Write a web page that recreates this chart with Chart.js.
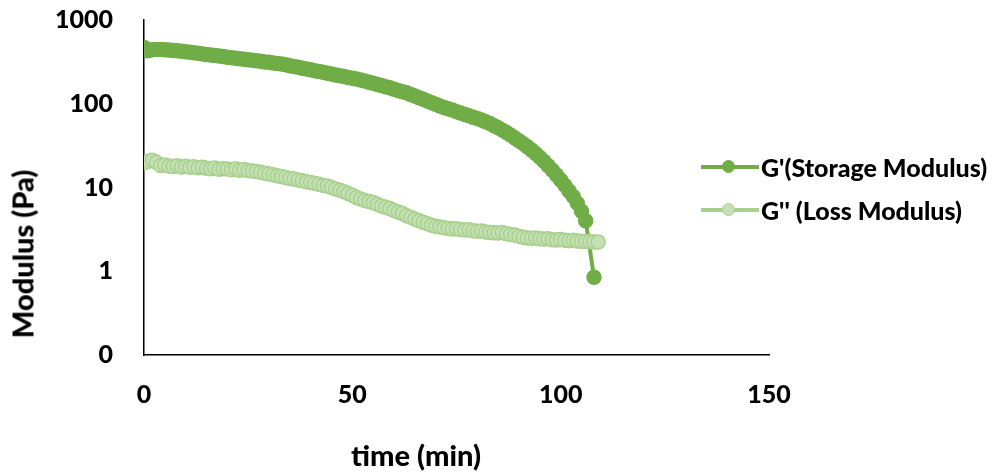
<!DOCTYPE html>
<html>
<head>
  <title>Storage and Loss Modulus vs Time</title>
  <script src="https://cdn.jsdelivr.net/npm/chart.js"></script>
  <style>
    body {
      margin: 0;
      background-color: white;
      font-family: 'Lato', sans-serif;
      font-weight: 900;
      color: #000;
    }

    .wrap {
      position: relative;
      width: 999px;
      height: 475px;
    }

    .axis-title {
      position: absolute;
      font-size: 29px;
      white-space: nowrap;
      transform: translate(-50%, -50%);
    }

    .y-title {
      transform: translate(-50%, -50%) rotate(-90deg);
    }

    .legend-item {
      position: absolute;
      left: 701px;
      display: flex;
      align-items: center;
      font-size: 25px;
      white-space: nowrap;
      transform: translateY(-50%);
    }

    .legend-mark {
      position: relative;
      width: 58px;
      height: 14px;
      margin-right: 2px;
    }

    .legend-line {
      position: absolute;
      left: 0;
      right: 0;
      top: 5px;
      height: 4px;
    }

    .legend-dot {
      position: absolute;
      left: 21px;
      top: 0px;
      width: 11px;
      height: 11px;
      border-radius: 50%;
      border: 1.5px solid;
    }
  </style>
</head>
<body>
  <div class="wrap">
    <canvas id="modulusChart" width="999" height="475"></canvas>

    <div class="axis-title y-title" style="left: 22px; top: 254px;">Modulus (Pa)</div>
    <div class="axis-title" style="left: 416px; top: 454px;">time (min)</div>

    <div id="legendContainer"></div>
  </div>

  <script>
    // Sample times (min)
    const minutes = [
      0, 1, 2, 3, 4, 5, 6, 7, 8, 9,
      10, 11, 12, 13, 14, 15, 16, 17, 18, 19,
      20, 21, 22, 23, 24, 25, 26, 27, 28, 29,
      30, 31, 32, 33, 34, 35, 36, 37, 38, 39,
      40, 41, 42, 43, 44, 45, 46, 47, 48, 49,
      50, 51, 52, 53, 54, 55, 56, 57, 58, 59,
      60, 61, 62, 63, 64, 65, 66, 67, 68, 69,
      70, 71, 72, 73, 74, 75, 76, 77, 78, 79,
      80, 81, 82, 83, 84, 85, 86, 87, 88, 89,
      90, 91, 92, 93, 94, 95, 96, 97, 98, 99,
      100, 101, 102, 103, 104, 105, 106, 107, 108, 109
    ];

    // G' (Pa), no reading at 107 and 109 min
    const storageModulus = [
      470, 430, 440, 445, 445, 442, 438, 433, 428, 423,
      418, 412, 406, 400, 394, 388, 382, 376, 371, 366,
      360, 355, 350, 345, 340, 335, 330, 326, 321, 316,
      312, 307, 303, 298, 292, 285, 279, 272, 266, 260,
      254, 248, 243, 237, 231, 226, 221, 216, 211, 206,
      201, 197, 192, 187, 181, 176, 170, 165, 160, 155,
      149, 144, 139, 135, 129, 123.5, 118, 113, 108, 103,
      98.5, 94, 90, 87, 84, 80.5, 77.5, 74.5, 72, 69,
      66.5, 64, 61, 58, 54.7, 51.6, 48.4, 45.3, 42.2, 39.1,
      36.2, 33.4, 30.6, 28, 25.4, 22.9, 20.5, 18.2, 16.1, 14.1,
      12.3, 10.6, 9.1, 7.8, 6.5, 5.2, 4.0, null, 0.85, null
    ];

    // G'' (Pa)
    const lossModulus = [
      19.8, 20.5, 21.2, 20.0, 18.3, 18.6, 18.0, 17.8, 18.2, 17.6,
      17.9, 17.4, 17.7, 17.2, 17.5, 17.0, 16.7, 17.1, 16.5, 16.8,
      16.6, 16.3, 16.7, 16.1, 16.4, 15.9, 15.7, 15.5, 15.2, 14.8,
      14.5, 14.2, 13.8, 13.5, 13.2, 12.8, 12.6, 12.3, 12.0, 11.7,
      11.5, 11.2, 10.9, 10.6, 10.4, 10.0, 9.6, 9.3, 8.9, 8.5,
      8.1, 7.6, 7.3, 7.0, 6.8, 6.6, 6.3, 6.0, 5.8, 5.6,
      5.3, 5.1, 4.9, 4.6, 4.4, 4.2, 4.0, 3.85, 3.7, 3.55,
      3.45, 3.37, 3.3, 3.25, 3.2, 3.22, 3.15, 3.1, 3.12, 3.05,
      3.0, 3.02, 2.95, 2.9, 2.88, 2.86, 2.9, 2.8, 2.75, 2.7,
      2.62, 2.55, 2.5, 2.48, 2.5, 2.45, 2.42, 2.44, 2.38, 2.36,
      2.4, 2.34, 2.32, 2.35, 2.3, 2.28, 2.26, 2.25, 2.24, 2.23
    ];

    const xTicks = [0, 50, 100, 150];
    const yTicks = [0.1, 1, 10, 100, 1000];

    const seriesNames = ["G'(Storage Modulus)", "G'' (Loss Modulus)"];
    const lineColors = ['#70AD47', '#A9D18E'];
    const fillColors = ['#70AD47', '#C5E0B4'];

    const tickFont = { family: 'Lato', size: 25, weight: '900' };

    function toPoints(values) {
      return minutes.map((t, i) => ({ x: t, y: values[i] }));
    }

    const datasets = [storageModulus, lossModulus].map((values, i) => ({
      label: seriesNames[i],
      data: toPoints(values),
      borderColor: lineColors[i],
      backgroundColor: fillColors[i],
      pointBorderColor: lineColors[i],
      pointBackgroundColor: fillColors[i],
      borderWidth: 4,
      pointRadius: 7,
      pointBorderWidth: 1.5,
      pointHoverRadius: 7,
      spanGaps: true,
      tension: 0,
      // loss modulus sits on top of the storage curve
      order: i === 0 ? 1 : 0
    }));

    const ctx = document.getElementById('modulusChart').getContext('2d');

    new Chart(ctx, {
      type: 'line',
      data: { datasets: datasets },
      options: {
        responsive: false,
        animation: false,
        layout: {
          padding: { left: 0, right: 230, top: 20, bottom: 0 }
        },
        scales: {
          x: {
            type: 'linear',
            min: 0,
            max: 150,
            afterBuildTicks: scale => {
              scale.ticks = xTicks.map(v => ({ value: v }));
            },
            afterFit: scale => {
              scale.height = 120;
              scale.paddingLeft = 0;
              scale.paddingRight = 0;
            },
            grid: { display: false, drawTicks: false },
            border: { display: true, color: '#000', width: 1.5 },
            ticks: {
              font: tickFont,
              color: '#000',
              padding: 25,
              maxRotation: 0
            }
          },
          y: {
            type: 'logarithmic',
            min: 0.1,
            max: 1000,
            afterBuildTicks: scale => {
              scale.ticks = yTicks.map(v => ({ value: v }));
            },
            afterFit: scale => {
              // keep the tick padding from pushing the plot down
              scale.width = 144;
              scale.paddingTop = 0;
              scale.paddingBottom = 0;
            },
            grid: { display: false, drawTicks: false },
            border: { display: true, color: '#000', width: 1.5 },
            ticks: {
              font: tickFont,
              color: '#000',
              padding: 31,
              callback: v => (v < 1 ? '0' : String(Math.round(v)))
            }
          }
        },
        plugins: {
          legend: { display: false },
          tooltip: { enabled: false }
        }
      }
    });

    // Legend beside the plot
    const legendContainer = document.getElementById('legendContainer');
    const legendTops = [167, 210];

    seriesNames.forEach((name, i) => {
      const item = document.createElement('div');
      item.className = 'legend-item';
      item.style.top = legendTops[i] + 'px';

      const mark = document.createElement('div');
      mark.className = 'legend-mark';

      const line = document.createElement('div');
      line.className = 'legend-line';
      line.style.backgroundColor = lineColors[i];

      const dot = document.createElement('div');
      dot.className = 'legend-dot';
      dot.style.backgroundColor = fillColors[i];
      dot.style.borderColor = lineColors[i];

      mark.appendChild(line);
      mark.appendChild(dot);

      const label = document.createElement('span');
      label.textContent = name;

      item.appendChild(mark);
      item.appendChild(label);
      legendContainer.appendChild(item);
    });
  </script>
</body>
</html>
